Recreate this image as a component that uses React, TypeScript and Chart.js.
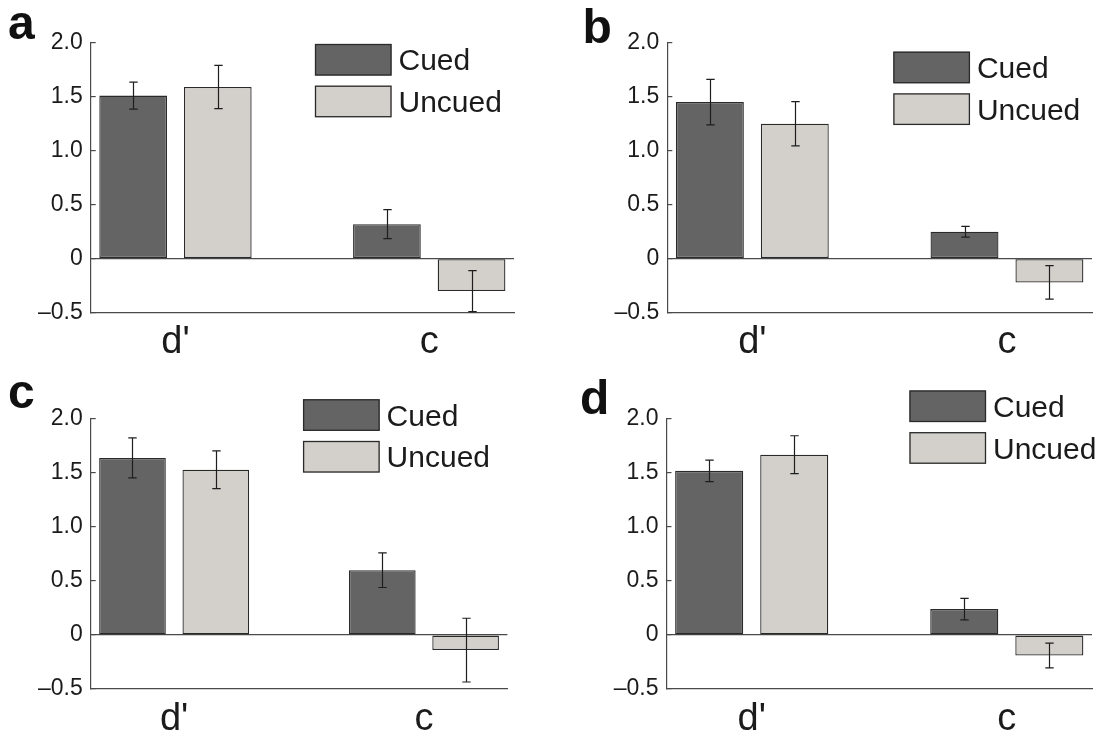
import React, { useEffect, useRef } from "react";
import { Chart, registerables } from "chart.js";

Chart.register(...registerables);

// ---------- data ----------
const categories = ["d'", "c"];
const seriesNames = ["Cued", "Uncued"];
const panelLetters = ["a", "b", "c", "d"];
const yTickValues = [-0.5, 0, 0.5, 1.0, 1.5, 2.0];

const cuedA = [1.51, 0.32];
const cuedErrA = [0.125, 0.135];
const uncuedA = [1.59, -0.3];
const uncuedErrA = [0.2, 0.19];

const cuedB = [1.45, 0.25];
const cuedErrB = [0.21, 0.05];
const uncuedB = [1.25, -0.22];
const uncuedErrB = [0.205, 0.155];

const cuedC = [1.64, 0.6];
const cuedErrC = [0.185, 0.16];
const uncuedC = [1.53, -0.14];
const uncuedErrC = [0.175, 0.295];

const cuedD = [1.52, 0.24];
const cuedErrD = [0.1, 0.1];
const uncuedD = [1.67, -0.19];
const uncuedErrD = [0.175, 0.115];

const panelData = [
  { cued: cuedA, cuedErr: cuedErrA, uncued: uncuedA, uncuedErr: uncuedErrA },
  { cued: cuedB, cuedErr: cuedErrB, uncued: uncuedB, uncuedErr: uncuedErrB },
  { cued: cuedC, cuedErr: cuedErrC, uncued: uncuedC, uncuedErr: uncuedErrC },
  { cued: cuedD, cuedErr: cuedErrD, uncued: uncuedD, uncuedErr: uncuedErrD },
];

// ---------- layout & style ----------
const FONT = '"Liberation Sans", Arial, Helvetica, sans-serif';
const TEXT = "#1b1b1b";
const AXIS = "#4a4a4a";
const DARK = "#646464";
const LIGHT = "#d3d0cb";
const EDGE = "#2a2a2a";

const PANEL_W = 551;
const PANEL_H = 366;

const panelLayouts = [
  { left: 0, top: 0, area: { l: 90.7, r: 514, t: 42.7, b: 312.7 }, legend: { x: 315, y: 44 }, letter: { x: 8, y: -0.6 } },
  { left: 551, top: 0, area: { l: 116.3, r: 541, t: 42.7, b: 312.7 }, legend: { x: 342.4, y: 51.7 }, letter: { x: 582.5, y: 2.7 } },
  { left: 0, top: 366, area: { l: 90.7, r: 507.4, t: 53, b: 323 }, legend: { x: 303.1, y: 33.3 }, letter: { x: 8, y: 368.4 } },
  { left: 551, top: 366, area: { l: 115.5, r: 541, t: 53, b: 323 }, legend: { x: 358.5, y: 24.5 }, letter: { x: 580, y: 374.4 } },
];

const errorBarPlugin = {
  id: "errorBars",
  afterDatasetsDraw(chart: any) {
    const ctx = chart.ctx;
    const yScale = chart.scales.y;
    ctx.save();
    ctx.strokeStyle = "#1e1e1e";
    ctx.lineWidth = 1.2;
    chart.data.datasets.forEach((ds: any, i: number) => {
      const meta = chart.getDatasetMeta(i);
      meta.data.forEach((bar: any, j: number) => {
        const v = ds.data[j].y;
        const e = ds.errors[j];
        const yTop = yScale.getPixelForValue(v + e);
        const yBot = yScale.getPixelForValue(v - e);
        const x = Math.round(bar.x) + 0.5;
        const cap = 4.2;
        ctx.beginPath();
        ctx.moveTo(x, yTop);
        ctx.lineTo(x, yBot);
        ctx.moveTo(x - cap, yTop);
        ctx.lineTo(x + cap, yTop);
        ctx.moveTo(x - cap, yBot);
        ctx.lineTo(x + cap, yBot);
        ctx.stroke();
      });
    });
    ctx.restore();
  },
};

const panelLegendPlugin = {
  id: "panelLegend",
  afterDraw(chart: any, _args: any, opts: any) {
    const ctx = chart.ctx;
    const boxW = 76.5;
    const boxH = 31.5;
    const gap = 10.2;
    const fs = 30;
    ctx.save();
    chart.data.datasets.forEach((ds: any, i: number) => {
      const y = opts.y + i * (boxH + gap);
      ctx.fillStyle = ds.backgroundColor;
      ctx.fillRect(opts.x, y, boxW, boxH);
      ctx.strokeStyle = ds.borderColor;
      ctx.lineWidth = 1.3;
      ctx.strokeRect(opts.x + 0.5, y + 0.5, boxW - 1, boxH - 1);
      ctx.fillStyle = TEXT;
      ctx.font = `${fs}px ${FONT}`;
      ctx.textBaseline = "alphabetic";
      ctx.textAlign = "left";
      ctx.fillText(ds.label, opts.x + boxW + 7, y + boxH / 2 + 0.358 * fs);
    });
    ctx.restore();
  },
};

function fmtY(v: number) {
  if (Math.abs(v) < 1e-9) return "0";
  if (v < 0) return "\u2013" + Math.abs(v).toFixed(1);
  return v.toFixed(1);
}

function Panel({ index }: { index: number }) {
  const ref = useRef<HTMLCanvasElement | null>(null);
  useEffect(() => {
    const lay = panelLayouts[index];
    const d = panelData[index];
    const a = lay.area;
    const chart = new Chart(ref.current as HTMLCanvasElement, {
      type: "bar",
      data: {
        datasets: [
          {
            label: seriesNames[0],
            data: d.cued.map((y, i) => ({ x: i + 1, y })),
            errors: d.cuedErr,
            backgroundColor: DARK,
            borderColor: EDGE,
            borderWidth: 1.3,
            borderSkipped: false,
            categoryPercentage: 0.667,
            barPercentage: 0.8,
          } as any,
          {
            label: seriesNames[1],
            data: d.uncued.map((y, i) => ({ x: i + 1, y })),
            errors: d.uncuedErr,
            backgroundColor: LIGHT,
            borderColor: EDGE,
            borderWidth: 1.3,
            borderSkipped: false,
            categoryPercentage: 0.667,
            barPercentage: 0.8,
          } as any,
        ],
      },
      options: {
        animation: false,
        responsive: false,
        devicePixelRatio: 1,
        events: [],
        layout: { padding: { left: 0, top: a.t, right: PANEL_W - a.r, bottom: 0 } },
        plugins: {
          legend: { display: false },
          tooltip: { enabled: false },
          panelLegend: { x: lay.legend.x, y: lay.legend.y },
        } as any,
        scales: {
          x: {
            type: "linear",
            min: 0.666,
            max: 2.334,
            offset: false,
            grid: { display: true, drawOnChartArea: false, drawTicks: false, offset: false },
            border: { display: true, color: AXIS, width: 1.2 },
            afterBuildTicks: (s: any) => {
              s.ticks = categories.map((_, i) => ({ value: i + 1 }));
            },
            afterFit: (s: any) => {
              s.height = PANEL_H - a.b;
            },
            ticks: {
              autoSkip: false,
              maxRotation: 0,
              padding: 7.5,
              color: TEXT,
              font: { family: FONT, size: 38 },
              callback: (v: any) => categories[Math.round(v) - 1] ?? "",
            },
          },
          y: {
            type: "linear",
            min: -0.5,
            max: 2.0,
            grid: {
              display: true,
              drawOnChartArea: true,
              drawTicks: true,
              tickLength: -5,
              lineWidth: 1.2,
              color: (ctx: any) => (ctx.tick && Math.abs(ctx.tick.value) < 1e-9 ? AXIS : "rgba(0,0,0,0)"),
              tickColor: AXIS,
            },
            border: { display: true, color: AXIS, width: 1.2 },
            afterBuildTicks: (s: any) => {
              s.ticks = yTickValues.map((v) => ({ value: v }));
            },
            afterFit: (s: any) => {
              s.width = a.l;
            },
            ticks: {
              padding: 13,
              color: TEXT,
              font: { family: FONT, size: 23 },
              callback: (v: any) => fmtY(Number(v)),
            },
          },
        } as any,
      },
      plugins: [errorBarPlugin, panelLegendPlugin],
    });
    return () => chart.destroy();
  }, [index]);

  const lay = panelLayouts[index];
  return (
    <canvas
      ref={ref}
      width={PANEL_W}
      height={PANEL_H}
      style={{ position: "absolute", left: lay.left, top: lay.top, width: PANEL_W, height: PANEL_H }}
    />
  );
}

export default function App() {
  return (
    <div
      style={{
        position: "absolute",
        left: 0,
        top: 0,
        width: 1102,
        height: 732,
        background: "#ffffff",
        overflow: "hidden",
      }}
    >
      {panelLayouts.map((_, i) => (
        <Panel key={i} index={i} />
      ))}
      {panelLayouts.map((lay, i) => (
        <div
          key={"l" + i}
          style={{
            position: "absolute",
            left: lay.letter.x,
            top: lay.letter.y,
            fontFamily: FONT,
            fontWeight: "bold",
            fontSize: 48,
            lineHeight: "48px",
            color: "#111",
          }}
        >
          {panelLetters[i]}
        </div>
      ))}
    </div>
  );
}
